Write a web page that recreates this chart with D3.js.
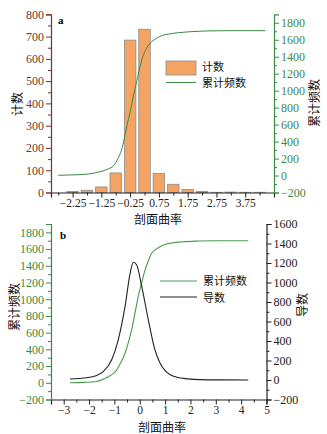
<!DOCTYPE html>
<html>
<head>
<meta charset="utf-8">
<script src="https://cdn.jsdelivr.net/npm/d3@7"></script>
<style>
  html, body { margin: 0; padding: 0; background: #fff; }
  svg { display: block; }
  .cjk { font-family: "Noto Sans CJK SC", sans-serif; font-size: 12px; fill: #111; }
  .leg { font-family: "Noto Sans CJK SC", sans-serif; font-size: 11px; fill: #111; }
</style>
</head>
<body>
<svg id="chart" width="327" height="434"></svg>
<script>
// Histogram of profile curvature (panel a)
const binCenters = [-2.25, -1.75, -1.25, -0.75, -0.25, 0.25, 0.75, 1.25, 1.75, 2.25, 2.75, 3.25, 3.75, 4.25];
const counts     = [5, 10, 25, 88, 684, 733, 85, 37, 13, 5, 1, 2, 1, 1];

// Cumulative frequency drawn over the histogram (panel a)
const cumAx = [-2.75, -2.2, -1.7, -1.3, -1.0, -0.84, -0.66, -0.55, -0.45, -0.37, -0.25, -0.14, -0.02, 0.09, 0.2, 0.32, 0.5, 0.67, 0.84, 1.1, 1.42, 1.8, 2.28, 3.2, 4.45];
const cumAy = [3, 8, 18, 45, 80, 110, 210, 300, 440, 575, 750, 930, 1110, 1280, 1410, 1500, 1577, 1617, 1648, 1668, 1683, 1694, 1702, 1707, 1707];

// Smoothed cumulative frequency and its derivative (panel b)
const cumBx = [-2.75, -2.2, -1.76, -1.5, -1.24, -1.05, -0.91, -0.75, -0.58, -0.45, -0.32, -0.19, -0.06, 0.08, 0.21, 0.34, 0.47, 0.65, 0.93, 1.3, 1.72, 2.3, 3.04, 4.28];
const cumBy = [0, 5, 13, 35, 73, 110, 153, 240, 353, 480, 632, 830, 1030, 1200, 1350, 1460, 1549, 1600, 1649, 1675, 1688, 1696, 1700, 1700];
const derBx = [-2.75, -2.2, -1.76, -1.44, -1.11, -0.85, -0.58, -0.38, -0.25, -0.12, 0.08, 0.34, 0.6, 0.8, 1.0, 1.46, 1.9, 2.38, 3.2, 4.28];
const derBy = [10, 20, 40, 85, 205, 410, 752, 1094, 1207, 1179, 957, 615, 308, 175, 97, 29, 12, 4, 1, 0];

// Tick values
const xTicksA  = [-2.25, -1.25, -0.25, 0.75, 1.75, 2.75, 3.75];
const xMinorA  = [-2.75, -1.75, -0.75, 0.25, 1.25, 2.25, 3.25, 4.25];
const yTicksA  = [0, 100, 200, 300, 400, 500, 600, 700, 800];
const y2TicksA = [-200, 0, 200, 400, 600, 800, 1000, 1200, 1400, 1600, 1800];
const xTicksB  = [-3, -2, -1, 0, 1, 2, 3, 4, 5];
const yTicksB  = [-200, 0, 200, 400, 600, 800, 1000, 1200, 1400, 1600, 1800];
const y2TicksB = [-200, 0, 200, 400, 600, 800, 1000, 1200, 1400, 1600];

const BROWN = "#6b3a2c", GREEN = "#3b8a45", LINE_GREEN = "#4a9a4e", DARK = "#222";
const SERIF = "'Liberation Serif', 'Times New Roman', serif";
const svg = d3.select("#chart");
const intFmt = d3.format("d");

function minorBetween(vals, parts) {
  const out = [];
  for (let i = 0; i < vals.length - 1; i++) {
    const step = (vals[i + 1] - vals[i]) / parts;
    for (let k = 1; k < parts; k++) out.push(vals[i] + k * step);
  }
  return out;
}

function drawAxis(g, axis, color, size = 12) {
  g.call(axis);
  g.attr("font-family", SERIF).attr("font-size", size);
  g.select(".domain").attr("stroke", color).attr("stroke-width", 1.2);
  g.selectAll(".tick line").attr("stroke", color);
  g.selectAll(".tick text").attr("fill", color)
    .attr("font-family", SERIF).attr("font-size", size);
}

function minorAxis(g, axis, color) {
  g.call(axis.tickFormat(""));
  g.select(".domain").remove();
  g.selectAll(".tick line").attr("stroke", color);
}

// ---------- Panel a ----------
const aL = 51, aR = 274, aT = 14.3, aB = 192.5;
const xA  = d3.scaleLinear().domain([-3, 4.75]).range([aL, aR]);
const yA  = d3.scaleLinear().domain([0, 800]).range([aB, aT]);
const y2A = d3.scaleLinear().domain([-200, 1900]).range([aB, aT]);
const barW = (xA(0.4) - xA(0));

const gA = svg.append("g");
gA.selectAll("rect.bar").data(binCenters).join("rect")
  .attr("class", "bar")
  .attr("x", (d) => xA(d) - barW / 2)
  .attr("width", barW)
  .attr("y", (d, i) => yA(counts[i]))
  .attr("height", (d, i) => yA(0) - yA(counts[i]))
  .attr("fill", "#f4a362")
  .attr("stroke", "#8c8c8c")
  .attr("stroke-width", 0.8);

const lineA = d3.line().x((d) => xA(d[0])).y((d) => y2A(d[1])).curve(d3.curveMonotoneX);
gA.append("path").datum(d3.zip(cumAx, cumAy))
  .attr("d", lineA).attr("fill", "none").attr("stroke", GREEN).attr("stroke-width", 1);

// axes a
minorAxis(gA.append("g").attr("transform", `translate(0,${aB})`),
  d3.axisBottom(xA).tickValues(xMinorA).tickSize(3), DARK);
drawAxis(gA.append("g").attr("transform", `translate(0,${aB})`),
  d3.axisBottom(xA).tickValues(xTicksA).tickSize(5).tickPadding(1).tickFormat(d3.format(".2f")), DARK, 11.5);

minorAxis(gA.append("g").attr("transform", `translate(${aL},0)`),
  d3.axisLeft(yA).tickValues(minorBetween(yTicksA, 2)).tickSize(3), BROWN);
drawAxis(gA.append("g").attr("transform", `translate(${aL},0)`),
  d3.axisLeft(yA).tickValues(yTicksA).tickSize(5).tickPadding(2).tickFormat(intFmt), BROWN);

minorAxis(gA.append("g").attr("transform", `translate(${aR},0)`),
  d3.axisRight(y2A).tickValues(minorBetween(y2TicksA, 2)).tickSize(3), GREEN);
drawAxis(gA.append("g").attr("transform", `translate(${aR},0)`),
  d3.axisRight(y2A).tickValues(y2TicksA).tickSize(5).tickPadding(2).tickFormat(intFmt), GREEN);

gA.append("text").attr("x", 58).attr("y", 24)
  .attr("font-family", SERIF).attr("font-weight", "bold")
  .attr("font-size", 11).text("a");

// legend a
gA.append("rect").attr("x", 166).attr("y", 61).attr("width", 30).attr("height", 14)
  .attr("fill", "#f4a362").attr("stroke", "#8c8c8c").attr("stroke-width", 0.8);
gA.append("text").attr("class", "leg").attr("x", 202).attr("y", 70.5).text("计数");
gA.append("line").attr("x1", 166).attr("x2", 196).attr("y1", 82.5).attr("y2", 82.5)
  .attr("stroke", GREEN).attr("stroke-width", 1);
gA.append("text").attr("class", "leg").attr("x", 202).attr("y", 87).text("累计频数");

// titles a
gA.append("text").attr("class", "cjk").attr("text-anchor", "middle")
  .attr("transform", "translate(22,104) rotate(-90)").attr("font-size", 13).text("计数");
gA.append("text").attr("class", "cjk").attr("text-anchor", "middle")
  .attr("transform", "translate(319,103) rotate(-90)").text("累计频数");
gA.append("text").attr("class", "cjk").attr("text-anchor", "middle")
  .attr("x", 158).attr("y", 223.5).attr("font-size", 11).text("剖面曲率");

// ---------- Panel b ----------
const bL = 51, bR = 266.5, bT = 224, bB = 399.5;
const xB  = d3.scaleLinear().domain([-3.5, 5]).range([bL, bR]);
const yB  = d3.scaleLinear().domain([-200, 1900]).range([bB, bT]);
const y2B = d3.scaleLinear().domain([-200, 1600]).range([bB, bT]);

const gB = svg.append("g");
const lineCum = d3.line().x((d) => xB(d[0])).y((d) => yB(d[1])).curve(d3.curveMonotoneX);
const lineDer = d3.line().x((d) => xB(d[0])).y((d) => y2B(d[1])).curve(d3.curveMonotoneX);
gB.append("path").datum(d3.zip(cumBx, cumBy))
  .attr("d", lineCum).attr("fill", "none").attr("stroke", LINE_GREEN).attr("stroke-width", 1.1);
gB.append("path").datum(d3.zip(derBx, derBy))
  .attr("d", lineDer).attr("fill", "none").attr("stroke", DARK).attr("stroke-width", 1.1);

minorAxis(gB.append("g").attr("transform", `translate(0,${bB})`),
  d3.axisBottom(xB).tickValues(minorBetween(xTicksB, 2)).tickSize(3), DARK);
drawAxis(gB.append("g").attr("transform", `translate(0,${bB})`),
  d3.axisBottom(xB).tickValues(xTicksB).tickSize(5).tickPadding(1).tickFormat(intFmt), DARK, 11.5);

minorAxis(gB.append("g").attr("transform", `translate(${bL},0)`),
  d3.axisLeft(yB).tickValues(minorBetween(yTicksB, 2)).tickSize(3), GREEN);
drawAxis(gB.append("g").attr("transform", `translate(${bL},0)`),
  d3.axisLeft(yB).tickValues(yTicksB).tickSize(5).tickPadding(2).tickFormat(intFmt), GREEN);

minorAxis(gB.append("g").attr("transform", `translate(${bR},0)`),
  d3.axisRight(y2B).tickValues(minorBetween(y2TicksB, 2)).tickSize(3), DARK);
drawAxis(gB.append("g").attr("transform", `translate(${bR},0)`),
  d3.axisRight(y2B).tickValues(y2TicksB).tickSize(5).tickPadding(2).tickFormat(intFmt), DARK);

gB.append("text").attr("x", 60).attr("y", 239)
  .attr("font-family", SERIF).attr("font-weight", "bold")
  .attr("font-size", 11).text("b");

// legend b
gB.append("line").attr("x1", 160).attr("x2", 197).attr("y1", 281).attr("y2", 281)
  .attr("stroke", LINE_GREEN).attr("stroke-width", 1);
gB.append("text").attr("class", "leg").attr("x", 203).attr("y", 285).text("累计频数");
gB.append("line").attr("x1", 160).attr("x2", 197).attr("y1", 297).attr("y2", 297)
  .attr("stroke", DARK).attr("stroke-width", 1);
gB.append("text").attr("class", "leg").attr("x", 203).attr("y", 301.5).text("导数");

// titles b
gB.append("text").attr("class", "cjk").attr("text-anchor", "middle")
  .attr("transform", "translate(19,307) rotate(-90)").text("累计频数");
gB.append("text").attr("class", "cjk").attr("text-anchor", "middle")
  .attr("transform", "translate(307,305) rotate(-90)").text("导数");
gB.append("text").attr("class", "cjk").attr("text-anchor", "middle")
  .attr("x", 162).attr("y", 431.5).attr("font-size", 11).text("剖面曲率");
</script>
</body>
</html>
